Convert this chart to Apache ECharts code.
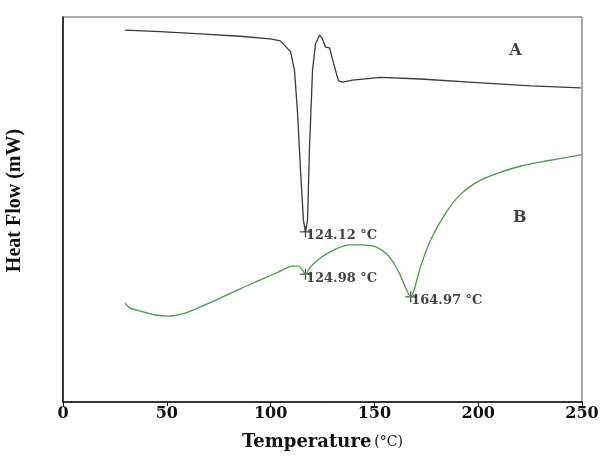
<!DOCTYPE html>
<html>
<head>
<meta charset="utf-8">
<script src="https://cdn.jsdelivr.net/npm/echarts@6/dist/echarts.min.js"></script>
<style>
  html, body { margin: 0; padding: 0; background: #fff; }
  #chart { width: 601px; height: 458px; }
</style>
</head>
<body>
<div id="chart"></div>
<script>
// curve A (temperature, heat flow in arbitrary units)
const tempA = [29.9, 46.8, 66.1, 85.4, 99.9, 104.7, 109.6, 111.5, 112.9, 114.4, 115.8, 116.8, 117.8, 118.7, 120.2, 121.6, 123.6, 125.0, 126.4, 128.4, 130.3, 132.7, 134.7, 139.5, 153.0, 172.3, 201.3, 225.4, 249.5];
const flowA = [96.6, 96.2, 95.6, 95.0, 94.3, 93.8, 91.0, 86.2, 75.8, 60.3, 47.3, 44.2, 47.3, 65.5, 86.2, 93.0, 95.3, 94.3, 92.2, 92.0, 88.0, 83.4, 83.1, 83.6, 84.3, 83.9, 82.9, 82.1, 81.6];

// curve B
const tempB = [29.9, 32.3, 37.2, 44.4, 50.7, 58.9, 66.1, 75.8, 85.4, 95.1, 104.7, 110.5, 113.4, 115.3, 116.8, 119.2, 124.0, 131.3, 138.5, 143.8, 150.6, 156.9, 161.7, 165.1, 167.5, 169.4, 172.3, 177.1, 184.4, 191.6, 201.3, 210.9, 220.6, 232.6, 249.5];
const flowB = [25.7, 24.4, 23.6, 22.6, 22.3, 23.1, 24.7, 27.0, 29.4, 31.7, 34.0, 35.3, 35.3, 34.3, 33.2, 35.1, 37.4, 39.7, 40.8, 40.8, 40.3, 37.9, 33.8, 29.6, 27.3, 29.6, 35.3, 42.1, 49.1, 54.0, 57.7, 59.7, 61.3, 62.6, 64.2];

// peak markers
const peakTemp = [116.8, 116.8, 167.5];
const peakFlow = [44.2, 33.2, 27.3];
const peakLabels = ['124.12 °C', '124.98 °C', '164.97 °C'];

// curve names
const curveNames = ['A', 'B'];
const curveNameTemp = [218, 220];
const curveNameFlow = [91.2, 47.8];

const xTicks = [0, 50, 100, 150, 200, 250];

const serif = '"DejaVu Serif", serif';
const times = '"Liberation Serif", "Times New Roman", serif';

const chart = echarts.init(document.getElementById('chart'));
chart.setOption({
    animation: false,
    grid: {
        left: 63, right: 19, top: 17, bottom: 56,
        outerBoundsMode: 'none',
        containLabel: false,
        show: true,
        borderColor: '#555',
        borderWidth: 1
    },
    xAxis: {
        type: 'value',
        min: 0, max: 250, interval: 50,
        name: '{t|Temperature}{u|(°C)}',
        nameLocation: 'middle',
        nameGap: 31,
        nameTextStyle: {
            rich: {
                t: { fontFamily: serif, fontWeight: 'bold', fontSize: 18, color: '#111' },
                u: { fontFamily: serif, fontSize: 14, color: '#111', padding: [0, 0, 0, 3] }
            }
        },
        axisLine: { lineStyle: { color: '#111', width: 1.5 } },
        axisTick: { show: true, length: 4, lineStyle: { color: '#111' } },
        axisLabel: {
            fontFamily: serif, fontWeight: 'bold', fontSize: 16, color: '#111', margin: 4,
            formatter: v => xTicks.includes(v) ? String(v) : ''
        },
        splitLine: { show: false }
    },
    yAxis: {
        type: 'value',
        min: 0, max: 100,
        name: 'Heat Flow (mW)',
        nameLocation: 'middle',
        nameGap: 38,
        nameTextStyle: {
            fontFamily: times, fontWeight: 'bold', fontSize: 20, color: '#111',
            padding: [0, 0, 0, 18]
        },
        axisLine: { show: true, lineStyle: { color: '#111', width: 1.5 } },
        axisTick: { show: false },
        axisLabel: { show: false },
        splitLine: { show: false }
    },
    series: [
        {
            type: 'line',
            data: tempA.map((t, i) => [t, flowA[i]]),
            showSymbol: false,
            lineStyle: { color: '#3a3a3a', width: 1.3 }
        },
        {
            type: 'line',
            data: tempB.map((t, i) => [t, flowB[i]]),
            showSymbol: false,
            smooth: 0.3,
            lineStyle: { color: '#4a9a4a', width: 1.3 }
        },
        {
            type: 'scatter',
            data: peakTemp.map((t, i) => ({ value: [t, peakFlow[i]], label: { formatter: peakLabels[i] } })),
            symbol: 'path://M4.4,0H5.6V10H4.4ZM0,4.4H10V5.6H0Z',
            symbolSize: 11,
            itemStyle: { color: '#222' },
            label: {
                show: true,
                position: [6, 3],
                fontFamily: serif, fontWeight: 'bold', fontSize: 13, color: '#111'
            }
        },
        {
            type: 'scatter',
            data: curveNames.map((n, i) => ({ value: [curveNameTemp[i], curveNameFlow[i]], label: { formatter: n } })),
            symbolSize: 0,
            label: {
                show: true,
                position: 'inside',
                fontFamily: serif, fontWeight: 'bold', fontSize: 16, color: '#111'
            }
        }
    ]
});
</script>
</body>
</html>
